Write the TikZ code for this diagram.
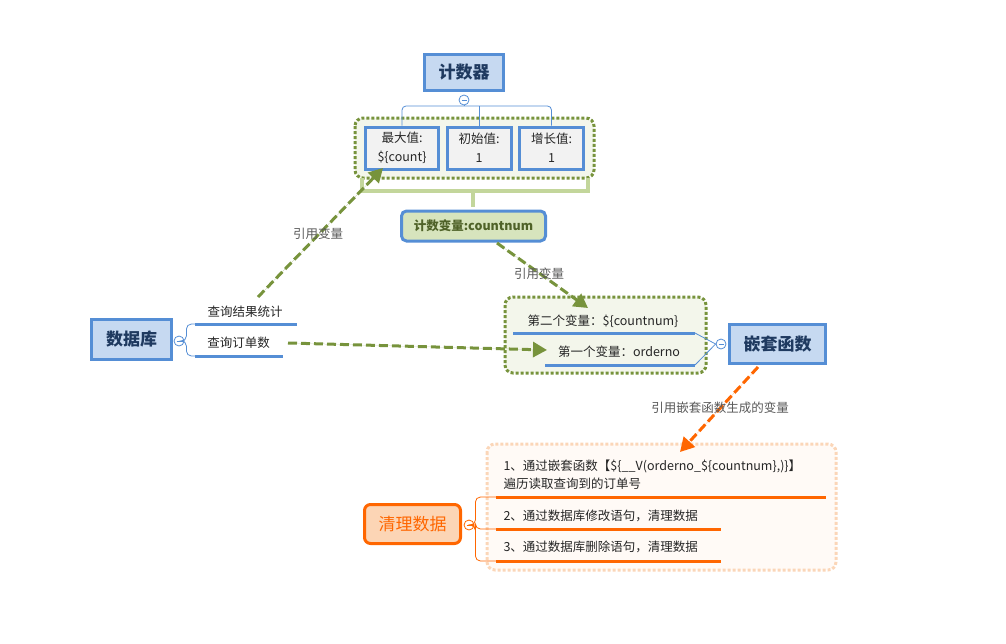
\documentclass[tikz,border=0pt]{standalone}
\usepackage{fontspec}
\setmainfont{Noto Sans CJK SC}
\usetikzlibrary{positioning, arrows.meta}

\definecolor{boxblue}{HTML}{C6D9F1}
\definecolor{lineblue}{HTML}{558ED5}
\definecolor{titletext}{HTML}{1F3A60}
\definecolor{grn}{HTML}{77933C}
\definecolor{grnfill}{HTML}{F3F6EB}
\definecolor{grnlight}{HTML}{C3D69B}
\definecolor{grnbox}{HTML}{D7E4BD}
\definecolor{grntext}{HTML}{4F6228}
\definecolor{org}{HTML}{FF6600}
\definecolor{orgfill}{HTML}{FCD5B5}
\definecolor{orglight}{HTML}{FBD6B8}
\definecolor{orgbg}{HTML}{FFFAF6}
\definecolor{txt}{HTML}{262626}
\definecolor{gry}{HTML}{595959}
\definecolor{cellgray}{HTML}{F2F2F2}

\tikzset{
  topic/.style={draw=lineblue, fill=boxblue, line width=3pt, inner sep=0pt,
    text=titletext, font=\fontsize{17}{20}\selectfont\bfseries},
  cell/.style={draw=lineblue, fill=cellgray, line width=3pt, inner sep=0pt,
    minimum height=42pt, align=center, font=\fontsize{12.5}{19}\selectfont},
  dotgrp/.style={rounded corners=8pt, line width=3pt, dash pattern=on 3pt off 2pt},
  conn/.style={draw=lineblue, line width=0.8pt},
  uline/.style={line width=3pt},
  tog/.style={circle, draw=#1, fill=white, line width=0.8pt, minimum size=10pt, inner sep=0pt,
    path picture={\draw[#1, line width=0.8pt] ([xshift=2.5pt]path picture bounding box.west)
      -- ([xshift=-2.5pt]path picture bounding box.east);}},
  ref/.style={line width=3pt, dash pattern=on 9pt off 4pt, -{Triangle[length=14pt, width=15pt]}},
  reflbl/.style={text=gry, font=\fontsize{12.5}{15}\selectfont}
}

\begin{document}
\begin{tikzpicture}[x=1pt, y=-1pt, font=\fontsize{12.5}{15}\selectfont, text=txt]
\useasboundingbox (0,0) rectangle (1006,643);

\draw[dotgrp, draw=grn, fill=grnfill] (355,118) rectangle (594,178);
\draw[dotgrp, draw=grn, fill=grnfill] (505,297) rectangle (706,373);
\draw[dotgrp, draw=orglight, fill=orgbg] (487,444) rectangle (836,570);

\node[topic, minimum width=79pt, minimum height=36pt] (cnt) at (464,72) {计数器};
\node[tog=lineblue] (cntc) at (464,100) {};
	\node[cell, minimum width=73pt] (maxv) at (402,148) {最大值:\\\$\{count\}};
	\node[cell, minimum width=64pt] (initv) at (479,148) {初始值:\\1};
	\node[cell, minimum width=64pt] (incv) at (551.5,148) {增长值:\\1};
\coordinate (cj) at (464,106);
\draw[conn] (cntc) -- (cj);
\draw[conn, rounded corners=4pt] (maxv.north) |- (cj) -| (incv.north);
\draw[conn] (initv.north) -- (initv.north |- cj);

\draw[draw=grnlight, line width=4pt] (362,178) |- (588,191) -- (588,178);
\draw[draw=grnlight, line width=4pt] (473,191) -- (473,207);
\node[draw=lineblue, fill=grnbox, line width=3pt, rounded corners=5pt, inner sep=0pt,
	minimum width=144pt, minimum height=30pt, text=grntext,
	font=\fontsize{12.5}{15}\selectfont\bfseries] (cvar) at (473.5,226) {计数变量:countnum};

\node[topic, minimum width=80pt, minimum height=40pt] (db) at (131.5,339.5) {数据库};
\node[tog=lineblue] (dbc) at (179,341) {};
	\node (sq1) at (245,312) {查询结果统计};
	\node (sq2) at (238.5,343) {查询订单数};
\coordinate (sq1u) at (195,324);
\coordinate (sq2u) at (195,356);
\draw[conn, rounded corners=5pt] (dbc.east) -- ++(2,0) |- (sq1u);
\draw[conn, rounded corners=5pt] (dbc.east) -- ++(2,0) |- (sq2u);
\draw[uline, draw=lineblue] (sq1u) -- (297,324);
\draw[uline, draw=lineblue] (sq2u) -- (283,356);

	\node (nv2) at (603,321) {第二个变量：\$\{countnum\}};
	\node (nv1) at (619,352) {第一个变量：orderno};
\coordinate (nv2u) at (695,333);
\coordinate (nv1u) at (695,365);
\draw[uline, draw=lineblue] (513,333) -- (nv2u);
\draw[uline, draw=lineblue] (545,365) -- (nv1u);
\node[tog=lineblue] (nestc) at (721,344) {};
\draw[conn] (nv2u) -- (nestc.west);
\draw[conn] (nv1u) -- (nestc.west);
\node[topic, minimum width=96pt, minimum height=39pt] (nest) at (777.5,344) {嵌套函数};

\node[draw=org, fill=orgfill, line width=3pt, rounded corners=6pt, inner sep=0pt,
	minimum width=96pt, minimum height=39pt, text=org,
	font=\fontsize{17}{20}\selectfont] (clean) at (412.5,524) {清理数据};
\node[tog=org] (cleanc) at (469,525) {};
	\node[anchor=west, align=left, font=\fontsize{12.5}{18}\selectfont] (c1) at (500,475)
		{1、通过嵌套函数【\$\{\_\_V(orderno\_\$\{countnum\},)\}】\\遍历读取查询到的订单号};
	\node[anchor=west] (c2) at (500,516) {2、通过数据库修改语句，清理数据};
	\node[anchor=west] (c3) at (500,547) {3、通过数据库删除语句，清理数据};
\coordinate (c1u) at (496,497);
\coordinate (c2u) at (496,529);
\coordinate (c3u) at (496,561);
\draw[draw=org, line width=0.8pt, rounded corners=5pt] (cleanc.east) -- ++(1,0) |- (c1u);
\draw[draw=org, line width=0.8pt, rounded corners=5pt] (cleanc.east) -- ++(1,0) |- (c2u);
\draw[draw=org, line width=0.8pt, rounded corners=5pt] (cleanc.east) -- ++(1,0) |- (c3u);
\draw[uline, draw=org] (c1u) -- (826,497);
\draw[uline, draw=org] (c2u) -- (721,529);
\draw[uline, draw=org] (c3u) -- (721,561);

\draw[ref, draw=grn, fill=grn] (258,297) -- (383,168);
\node[reflbl] (r1) at (318,234) {引用变量};
\draw[ref, draw=grn, fill=grn] (497,243) -- (588,308);
\node[reflbl] (r2) at (539,274) {引用变量};
\draw[ref, draw=grn, fill=grn] (288,343) -- (547,350);
\draw[ref, draw=org, fill=org] (758,367) -- (680,452);
\node[reflbl] (r3) at (720,408) {引用嵌套函数生成的变量};
\end{tikzpicture}
\end{document}
